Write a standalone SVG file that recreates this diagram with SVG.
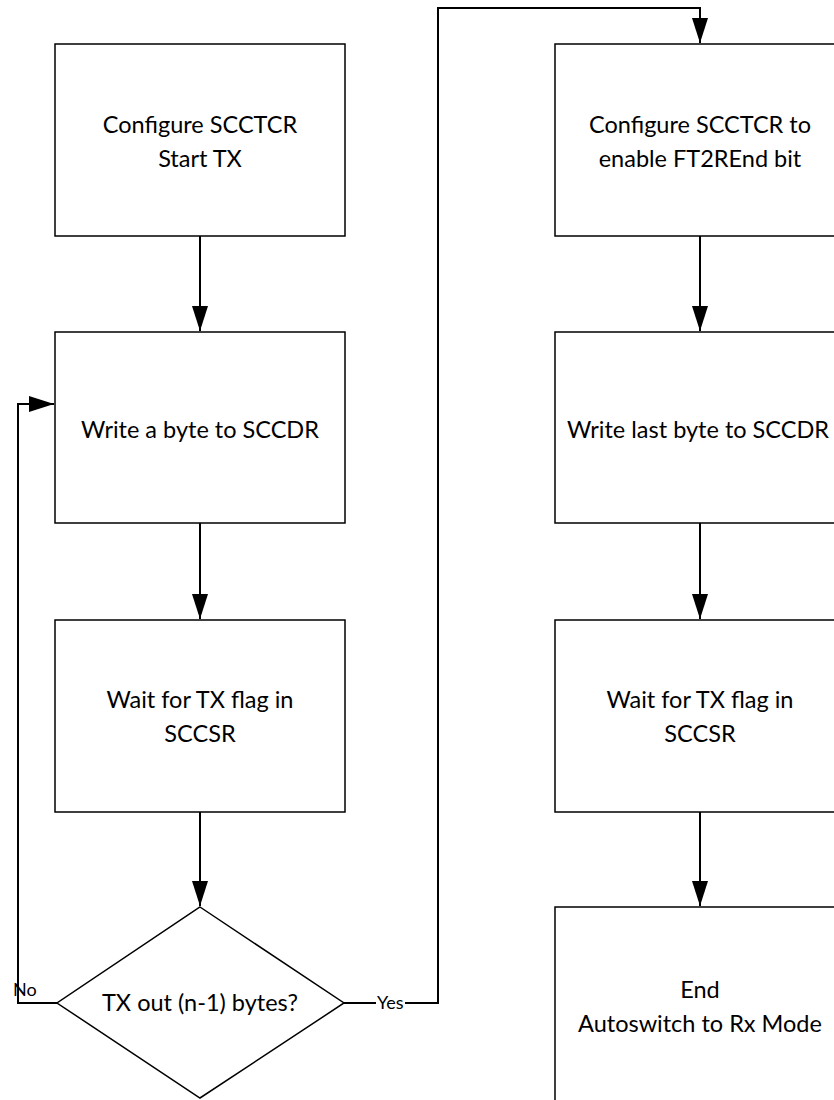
<svg xmlns="http://www.w3.org/2000/svg" width="834" height="1100" viewBox="0 0 834 1100">
<defs>
<style>
.box{fill:#fff;stroke:#000;stroke-width:1.5}
.t{font-family:Lato,"Liberation Sans",sans-serif;font-size:23.5px;fill:#000;text-anchor:middle}
.lbl{font-family:Lato,"Liberation Sans",sans-serif;font-size:18px;fill:#000}
.c{fill:none;stroke:#000;stroke-width:2}
</style>
<marker id="ah" viewBox="0 0 25 16" refX="25" refY="8" markerWidth="25" markerHeight="16" markerUnits="userSpaceOnUse" orient="auto">
<path d="M0,0 L25,8 L0,16 Z" fill="#000"/>
</marker>
</defs>
<rect width="834" height="1100" fill="#fff"/>
<g id="connectors">
<path class="c" d="M200,236 V331" marker-end="url(#ah)"/>
<path class="c" d="M200,523 V619" marker-end="url(#ah)"/>
<path class="c" d="M200,812 V906" marker-end="url(#ah)"/>
<path class="c" d="M57,1003 H18 V404 H54" marker-end="url(#ah)"/>
<path class="c" d="M344,1003 H376 M405,1003 H438 V8 H700 V43" marker-end="url(#ah)"/>
<path class="c" d="M700,236 V331" marker-end="url(#ah)"/>
<path class="c" d="M700,523 V619" marker-end="url(#ah)"/>
<path class="c" d="M700,812 V906" marker-end="url(#ah)"/>
<text class="lbl" x="13" y="996">No</text>
<text class="lbl" x="377" y="1009">Yes</text>
</g>
<g id="n1"><rect class="box" x="55" y="44" width="290" height="192"/><text class="t" x="200" y="133">Configure SCCTCR</text><text class="t" x="200" y="167">Start TX</text></g>
<g id="n2"><rect class="box" x="55" y="332" width="290" height="191"/><text class="t" x="200" y="438">Write a byte to SCCDR</text></g>
<g id="n3"><rect class="box" x="55" y="620" width="290" height="192"/><text class="t" x="200" y="708">Wait for TX flag in</text><text class="t" x="200" y="742">SCCSR</text></g>
<g id="n4"><polygon class="box" points="200,907 344,1003 200,1098 57,1003"/><text class="t" x="200" y="1011">TX out (n-1) bytes?</text></g>
<g id="n5"><rect class="box" x="555" y="44" width="300" height="192"/><text class="t" x="700" y="133">Configure SCCTCR to</text><text class="t" x="700" y="167">enable FT2REnd bit</text></g>
<g id="n6"><rect class="box" x="555" y="332" width="300" height="191"/><text class="t" x="698" y="438">Write last byte to SCCDR</text></g>
<g id="n7"><rect class="box" x="555" y="620" width="300" height="192"/><text class="t" x="700" y="708">Wait for TX flag in</text><text class="t" x="700" y="742">SCCSR</text></g>
<g id="n8"><rect class="box" x="555" y="907" width="300" height="220"/><text class="t" x="700" y="998">End</text><text class="t" x="700" y="1032">Autoswitch to Rx Mode</text></g>
</svg>
